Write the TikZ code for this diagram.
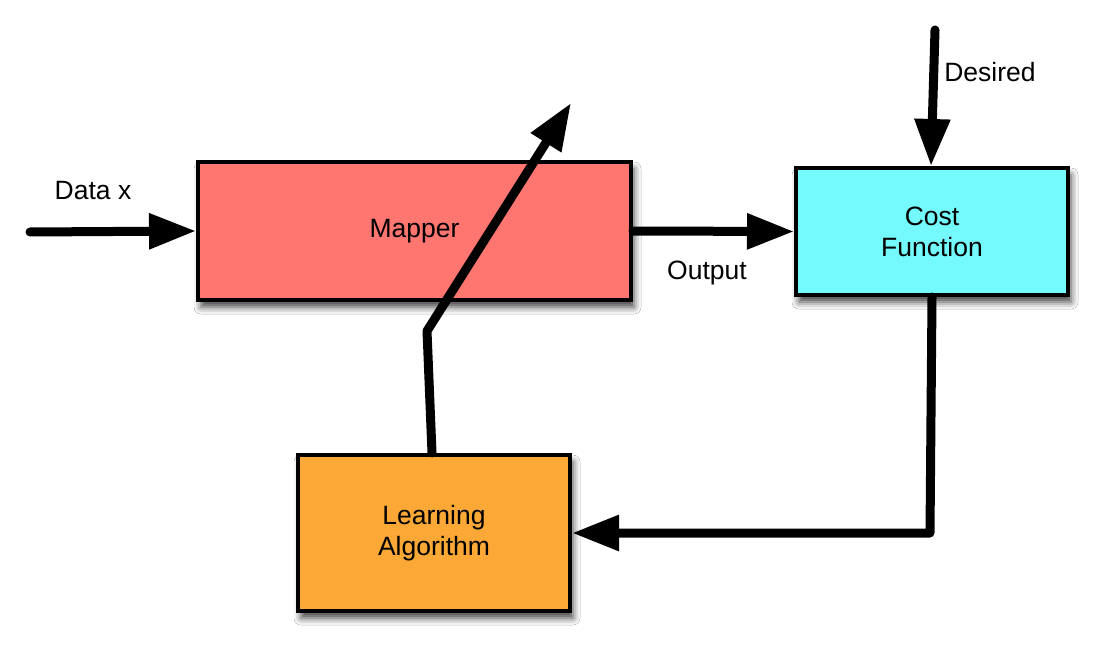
\documentclass[tikz,border=0pt]{standalone}
\usepackage{fontspec}
\setmainfont{Liberation Sans}
\usetikzlibrary{arrows.meta,shadows.blur}
\definecolor{mapcol}{HTML}{FF7570}
\definecolor{costcol}{HTML}{74F9FC}
\definecolor{learncol}{HTML}{FCA836}
\begin{document}
\begin{tikzpicture}[x=1pt,y=-1pt,
  blockbox/.style={draw=black,line width=4pt,inner sep=0pt,align=center,
    font=\fontsize{26.5}{31}\selectfont,
    blur shadow={shadow xshift=3pt,shadow yshift=-7pt,shadow blur radius=7pt,shadow opacity=75}},
  lbl/.style={font=\fontsize{26.5}{31}\selectfont,inner sep=0pt},
  flow/.style={line width=9pt,line cap=round,line join=round,
    -{Triangle[length=47pt,width=34pt]}}]
\useasboundingbox (0,0) rectangle (1110,663);
\fill[white] (0,0) rectangle (1110,663);

\node[blockbox,fill=mapcol,minimum width=433pt,minimum height=138pt] (map) at (414.5,231) {Mapper};
\node[blockbox,fill=costcol,minimum width=272pt,minimum height=127pt] (cost) at (932,231.5) {Cost\\Function};
\node[blockbox,fill=learncol,minimum width=272pt,minimum height=156pt] (learn) at (434,533) {Learning\\Algorithm};

\node[lbl] (datal) at (93,191) {Data x};
\node[lbl] (outl) at (707,273) {Output};
\node[lbl] (desl) at (990,72) {Desired};

\coordinate (dstart) at (30,232);
\coordinate (desstart) at (935,30);
\coordinate (cbend) at (930,533);
\coordinate (lbend) at (427,331);
\coordinate (ltip) at (571,103);

\draw[flow] (dstart) -- (map.west);
\draw[flow] (map.east) -- (cost.west);
\draw[flow] (desstart) -- ([xshift=-1pt]cost.north);
\draw[flow] (cost.south) -- (cbend) -- (learn.east);
\draw[flow] ([xshift=-2pt]learn.north) -- (lbend) -- (ltip);
\end{tikzpicture}
\end{document}
